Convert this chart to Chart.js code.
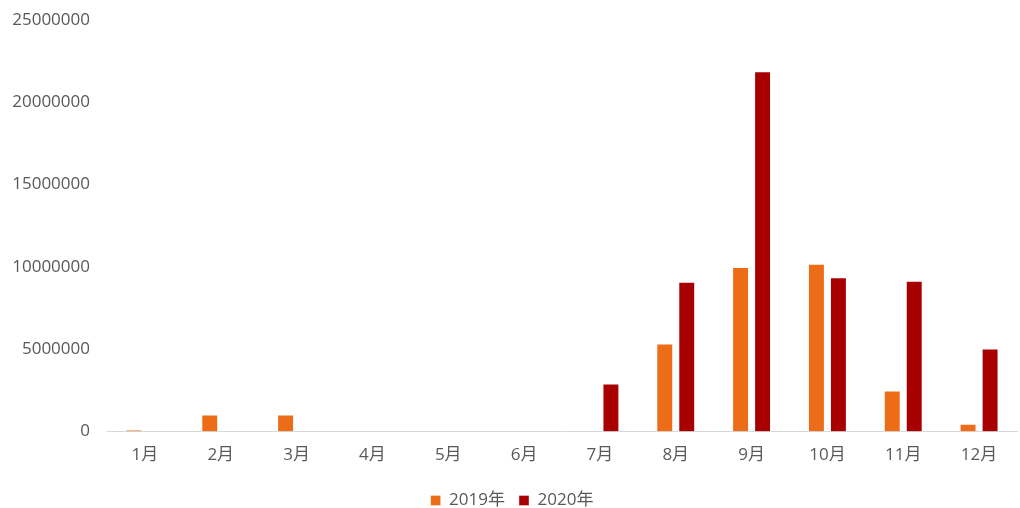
<!DOCTYPE html>
<html>
<head>
<meta charset="utf-8">
<script src="https://cdn.jsdelivr.net/npm/chart.js@4.4.1/dist/chart.umd.min.js"></script>
<style>
  html, body { margin: 0; padding: 0; background: #fff; }
  #chart { display: block; }
</style>
</head>
<body>
<canvas id="chart" width="1020" height="508"></canvas>
<script>
// data
const months = ['1月', '2月', '3月', '4月', '5月', '6月', '7月', '8月', '9月', '10月', '11月', '12月'];
const series2019 = [120000, 1040000, 1040000, 0, 0, 0, 0, 5350000, 9990000, 10190000, 2500000, 470000];
const series2020 = [0, 0, 0, 0, 0, 0, 2920000, 9100000, 21890000, 9380000, 9160000, 5040000];
const yTicks = [0, 5000000, 10000000, 15000000, 20000000, 25000000];

const labelFont = { family: "'Open Sans', 'Noto Sans CJK SC', sans-serif", size: 17 };
const textColor = '#595959';

const ctx = document.getElementById('chart').getContext('2d');
new Chart(ctx, {
    type: 'bar',
    data: {
        labels: months,
        datasets: [
            { label: '2019年', data: series2019, backgroundColor: '#EC6C17', borderColor: 'rgba(255,255,255,0.35)', borderWidth: 1 },
            { label: '2020年', data: series2020, backgroundColor: '#A80000', borderColor: 'rgba(255,255,255,0.35)', borderWidth: 1 }
        ]
    },
    options: {
        responsive: false,
        animation: false,
        categoryPercentage: 0.58,
        barPercentage: 0.77,
        layout: { padding: { left: 7, right: 3, top: 0, bottom: -11 } },
        plugins: {
            tooltip: { enabled: false },
            legend: {
                position: 'bottom',
                labels: {
                    color: textColor,
                    font: labelFont,
                    boxWidth: 10,
                    boxHeight: 10,
                    padding: 14
                }
            }
        },
        scales: {
            x: {
                grid: { display: false, drawTicks: false },
                border: { display: true, color: '#D9D9D9', width: 1 },
                ticks: { color: textColor, font: labelFont, padding: 13 }
            },
            y: {
                min: 0,
                max: 25000000,
                afterBuildTicks: (axis) => { axis.ticks = yTicks.map(v => ({ value: v })); },
                afterFit: (axis) => { axis.width = 100; },
                grid: { display: false, drawTicks: false },
                border: { display: false },
                ticks: {
                    color: textColor,
                    // small line height keeps the top overflow tight
                    font: Object.assign({}, labelFont, { lineHeight: 0.35 }),
                    padding: 17,
                    callback: (v) => String(v)
                }
            }
        }
    }
});
</script>
</body>
</html>
